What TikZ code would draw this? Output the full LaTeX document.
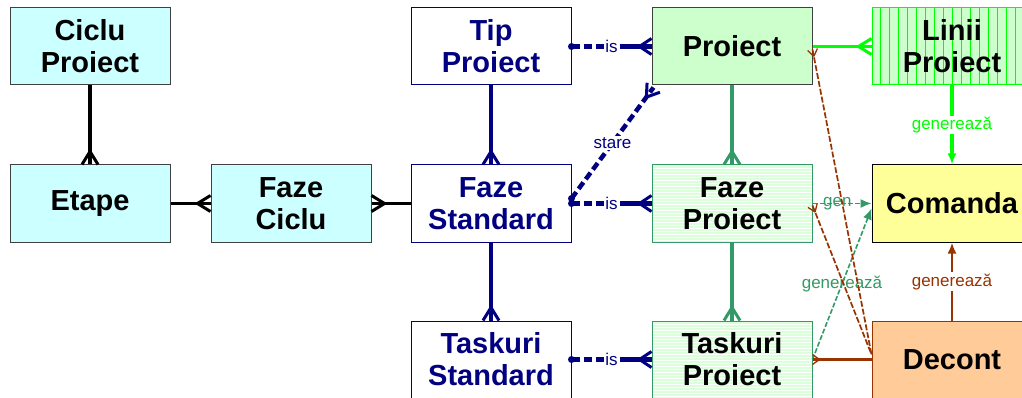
\documentclass[tikz,border=0pt]{standalone}
\usepackage{fontspec}
\setmainfont{Liberation Sans}
\usetikzlibrary{calc,arrows.meta}
\definecolor{cyanF}{HTML}{CCFFFF}
\definecolor{grnF}{HTML}{CCFFCC}
\definecolor{yelF}{HTML}{FFFF99}
\definecolor{orgF}{HTML}{FFCC99}
\definecolor{navyc}{HTML}{000080}
\definecolor{seag}{HTML}{339966}
\definecolor{brgreen}{HTML}{00FF00}
\definecolor{brn}{HTML}{993300}
\definecolor{edgec}{HTML}{404040}
\newcommand\entfont{\fontsize{29}{32}\selectfont\bfseries}
\newcommand\lblfont{\fontsize{17}{18}\selectfont}
% crow's foot: style, end point, toward point, length, half width
\newcommand\crow[5]{\draw[#1] ($(#2)!#4!(#3)$) -- ($(#2)!#5!90:(#3)$) ($(#2)!#4!(#3)$) -- ($(#2)!#5!-90:(#3)$);}
\tikzset{
 ent/.style={draw, rectangle, minimum width=160pt, minimum height=77pt, inner sep=0pt, align=center, font=\entfont, line width=1pt},
 cyanbox/.style={ent, fill=cyanF, draw=edgec},
 navybox/.style={ent, fill=white, draw=navyc, text=navyc},
 prbox/.style={ent, fill=grnF, draw=edgec},
 hbox/.style={ent, fill=grnF!70, draw=seag, path picture={\foreach \i in {1,...,30} \draw[white, line width=0.9pt] ([yshift=-\i*3pt]path picture bounding box.north west) -- ([yshift=-\i*3pt]path picture bounding box.north east);}},
 vbox/.style={ent, fill=grnF, draw=brgreen, path picture={\foreach \i in {0,...,18} \draw[brgreen, line width=0.9pt] ([xshift=\i*9pt+8pt]path picture bounding box.north west) -- ([xshift=\i*9pt+8pt]path picture bounding box.south west);}},
 blk/.style={draw=black, line width=3.5pt},
 nv/.style={draw=navyc, line width=3.5pt},
 isl/.style={draw=navyc, line width=4.5pt, dash pattern=on 8pt off 4pt},
 sg/.style={draw=seag, line width=3.5pt},
 bgl/.style={draw=brgreen, line width=3.5pt},
 sgd/.style={draw=seag, line width=1.6pt, dash pattern=on 5pt off 2pt},
 brs/.style={draw=brn, line width=2.2pt},
 brd/.style={draw=brn, line width=1.7pt, dash pattern=on 6pt off 2pt},
 lbl/.style={font=\lblfont, inner sep=1pt},
 tip/.style={-{Latex[length=11pt,width=9pt]}}
}
\begin{document}
\begin{tikzpicture}[x=1pt,y=-1pt]
\useasboundingbox (0,0) rectangle (1022,398);
\clip (0,0) rectangle (1022,398);
% entities
\node[cyanbox] (cp) at (90,46.5) {Ciclu\\Proiect};
\node[cyanbox] (et) at (90,203.5) {Etape};
\node[cyanbox] (fc) at (291,203.5) {Faze\\Ciclu};
\node[navybox] (tp) at (491,46.5) {Tip\\Proiect};
\node[navybox] (fs) at (491,203.5) {Faze\\Standard};
\node[navybox] (ts) at (491,359.5) {Taskuri\\Standard};
\node[prbox] (pr) at (732,46.5) {Proiect};
\node[hbox] (fp) at (732,203.5) {Faze\\Proiect};
\node[hbox] (tk) at (732,359.5) {Taskuri\\Proiect};
\node[vbox] (lp) at (952,46.5) {Linii\\Proiect};
\node[ent, fill=yelF, draw=black] (co) at (952,203.5) {Comanda};
\node[ent, fill=orgF, draw=brn] (de) at (952,359.5) {Decont};
% black relations
\draw[blk] (cp.south) -- (et.north);
\crow{blk, line width=3pt}{et.north}{cp.south}{13pt}{8pt}
\draw[blk] (et.east) -- (fc.west);
\crow{blk, line width=3pt}{fc.west}{et.east}{13pt}{8pt}
\draw[blk] (fc.east) -- (fs.west);
\crow{blk, line width=3pt}{fc.east}{fs.west}{13pt}{8pt}
% navy relations
\draw[nv] (tp.south) -- (fs.north);
\crow{nv, line width=3pt}{fs.north}{tp.south}{13pt}{8pt}
\draw[nv] (fs.south) -- (ts.north);
\crow{nv, line width=3pt}{ts.north}{fs.south}{13pt}{8pt}
% "is" relations
\draw[isl] (tp.east) -- node[lbl, fill=white, text=navyc] {is} (pr.west);
\draw[nv, line width=4.5pt] ($(pr.west)!24pt!(tp.east)$) -- (pr.west);
\fill[navyc] (tp.east) circle (3.5pt);
\crow{nv, line width=3pt}{pr.west}{tp.east}{12pt}{8pt}
\draw[isl] (fs.east) -- node[lbl, fill=white, text=navyc] {is} (fp.west);
\draw[nv, line width=4.5pt] ($(fp.west)!24pt!(fs.east)$) -- (fp.west);
\fill[navyc] (fs.east) circle (3.5pt);
\crow{nv, line width=3pt}{fp.west}{fs.east}{12pt}{8pt}
\draw[isl] (ts.east) -- node[lbl, fill=white, text=navyc] {is} (tk.west);
\draw[nv, line width=4.5pt] ($(tk.west)!24pt!(ts.east)$) -- (tk.west);
\fill[navyc] (ts.east) circle (3.5pt);
\crow{nv, line width=3pt}{tk.west}{ts.east}{12pt}{8pt}
% stare
\coordinate (st0) at ([yshift=5pt]fs.east);
\coordinate (st1) at ([xshift=2pt,yshift=-2pt]pr.south west);
\draw[isl] (st0) -- node[lbl, fill=white, text=navyc] {stare} (st1);
\fill[navyc] (st0) circle (3.5pt);
\crow{nv, line width=3pt}{st1}{st0}{12pt}{8pt}
% sea green
\draw[sg] (pr.south) -- (fp.north);
\crow{sg, line width=3pt}{fp.north}{pr.south}{13pt}{8pt}
\draw[sg] (fp.south) -- (tk.north);
\crow{sg, line width=3pt}{tk.north}{fp.south}{13pt}{8pt}
% bright green
\draw[bgl] (pr.east) -- (lp.west);
\crow{bgl, line width=3pt}{lp.west}{pr.east}{13pt}{8pt}
\draw[bgl, tip] (lp.south) -- node[lbl, fill=white, text=brgreen] {generează} (co.north);
% sea green dashed arrows
\draw[sgd, tip] (fp.east) -- node[lbl, pos=0.42, text=seag] {gen} (co.west);
\coordinate (co2) at ([yshift=-5pt]co.west);
\draw[sgd, tip] (tk.east) -- node[lbl, text=seag] {generează} (co2);
% brown
\draw[brs, tip] (de.north) -- node[lbl, fill=white, text=brn] {generează} (co.south);
\draw[brs] (de.west) -- (tk.east);
\crow{brs, line width=1.3pt}{tk.east}{de.west}{7pt}{5pt}
\coordinate (dx) at ([yshift=5pt]de.west);
\coordinate (p1) at ([yshift=-3pt]pr.east);
\coordinate (p2) at ([yshift=-2pt]fp.east);
\draw[brd] (p1) -- (dx);
\crow{brs, line width=1.3pt}{p1}{dx}{7pt}{5pt}
\draw[brd] (p2) -- (dx);
\crow{brs, line width=1.3pt}{p2}{dx}{7pt}{5pt}
\end{tikzpicture}
\end{document}
